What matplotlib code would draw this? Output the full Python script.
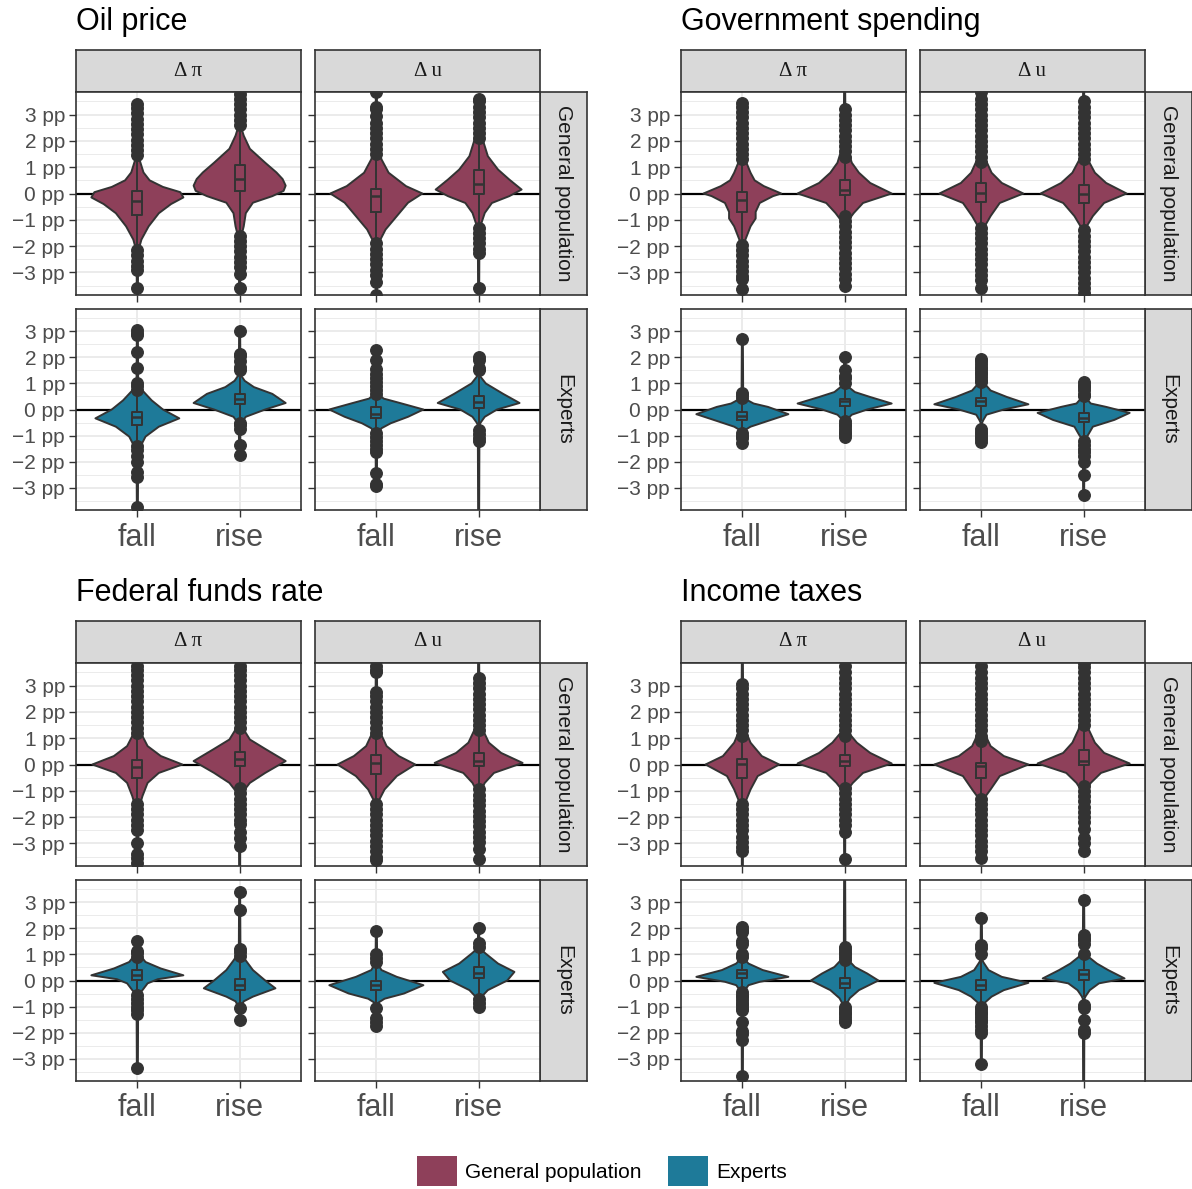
import matplotlib.pyplot as plt
from matplotlib.patches import Patch

W, H = 1192, 1189
plt.rcParams['font.family'] = ['Liberation Sans', 'DejaVu Sans']

shocks = ["Oil price", "Government spending", "Federal funds rate", "Income taxes"]
variables = ["\u0394 \u03c0", "\u0394 u"]
groups = ["General population", "Experts"]
directions = ["fall", "rise"]
yticks = [-3, -2, -1, 0, 1, 2, 3]
ytick_labels = ["\u22123 pp", "\u22122 pp", "\u22121 pp", "0 pp", "1 pp", "2 pp", "3 pp"]
group_colors = ["#8E405A", "#1E7A99"]

# order inside each shock list:
# GP dpi fall, GP dpi rise, GP du fall, GP du rise, Ex dpi fall, Ex dpi rise, Ex du fall, Ex du rise
# box = (q1, median, q3, whisker low, whisker high)
oil_box = [(-0.8, -0.3, 0.1, -2.1, 1.35), (0.11, 0.56, 1.07, -1.5, 2.5),
           (-0.7, -0.1, 0.19, -1.8, 1.4), (0.0, 0.38, 0.89, -1.2, 2.0),
           (-0.6, -0.3, -0.09, -1.3, 0.6), (0.2, 0.42, 0.6, -0.4, 1.2),
           (-0.34, -0.18, 0.1, -0.8, 0.5), (0.04, 0.29, 0.5, -0.6, 1.2)]
gov_box = [(-0.7, -0.23, 0.06, -1.9, 1.2), (-0.04, 0.13, 0.5, -0.8, 1.3),
           (-0.32, 0.03, 0.4, -1.2, 1.1), (-0.38, 0.0, 0.32, -1.3, 1.2),
           (-0.4, -0.25, -0.09, -0.8, 0.35), (0.13, 0.32, 0.42, -0.35, 0.85),
           (0.13, 0.33, 0.46, -0.4, 0.9), (-0.47, -0.32, -0.15, -1.0, 0.4)]
fed_box = [(-0.5, -0.08, 0.17, -1.5, 1.1), (-0.06, 0.2, 0.47, -0.8, 1.3),
           (-0.38, 0.04, 0.38, -1.4, 1.1), (-0.06, 0.13, 0.44, -0.9, 1.2),
           (0.01, 0.2, 0.4, -0.45, 0.8), (-0.37, -0.18, 0.07, -0.9, 0.8),
           (-0.37, -0.18, 0.0, -0.9, 0.55), (0.08, 0.29, 0.52, -0.55, 1.1)]
inc_box = [(-0.5, 0.02, 0.2, -1.4, 1.0), (-0.06, 0.13, 0.38, -0.8, 1.0),
           (-0.5, -0.06, 0.06, -1.2, 0.8), (0.0, 0.13, 0.57, -0.7, 1.4),
           (0.08, 0.27, 0.4, -0.35, 0.75), (-0.3, -0.11, 0.08, -0.9, 0.6),
           (-0.37, -0.18, 0.01, -0.9, 0.8), (0.01, 0.24, 0.42, -0.6, 0.95)]

oil_out = [[1.45, 1.65, 1.85, 2.05, 2.25, 2.45, 2.65, 2.85, 3.05, 3.25, 3.4, -2.15, -2.35, -2.55, -2.75, -2.9, -3.6],
           [2.6, 2.8, 3.0, 3.2, 3.4, 3.6, 3.8, -1.6, -1.8, -2.0, -2.2, -2.4, -2.6, -2.8, -3.05, -3.6],
           [1.5, 1.7, 1.9, 2.1, 2.3, 2.5, 2.7, 2.95, 3.2, 3.3, 3.85, -1.9, -2.1, -2.3, -2.5, -2.7, -2.9, -3.1, -3.35, -3.85],
           [2.1, 2.3, 2.5, 2.7, 2.9, 3.1, 3.3, 3.5, 3.6, -1.3, -1.5, -1.7, -1.9, -2.1, -2.25, -3.6],
           [0.75, 0.9, 1.0, 1.6, 2.2, 2.85, 2.95, 3.05, -1.4, -1.55, -1.8, -2.0, -2.4, -2.6, -3.75],
           [1.5, 1.65, 1.85, 2.05, 2.15, 3.0, -0.5, -0.6, -0.75, -1.35, -1.75],
           [0.6, 0.75, 0.9, 1.05, 1.2, 1.35, 1.55, 1.9, 2.3, -0.9, -1.05, -1.2, -1.35, -1.5, -1.65, -2.45, -2.85, -2.95],
           [1.5, 1.6, 1.9, 2.0, -0.8, -0.95, -1.1, -1.2]]
gov_out = [[1.3, 1.5, 1.7, 1.9, 2.1, 2.3, 2.5, 2.7, 2.9, 3.1, 3.3, 3.45, -1.95, -2.15, -2.35, -2.55, -2.75, -2.95, -3.15, -3.25, -3.65],
           [1.4, 1.6, 1.8, 2.0, 2.2, 2.4, 2.6, 2.8, 3.0, 3.2, -0.85, -1.05, -1.25, -1.45, -1.65, -1.85, -2.05, -2.25,
            -2.45, -2.65, -2.85, -3.05, -3.25, -3.5],
           [1.2, 1.4, 1.6, 1.8, 2.0, 2.2, 2.4, 2.6, 2.8, 3.0, 3.2, 3.4, 3.6, 3.85, -1.3, -1.5, -1.7, -1.9, -2.1, -2.3,
            -2.5, -2.7, -2.9, -3.1, -3.3, -3.6],
           [1.3, 1.5, 1.7, 1.9, 2.1, 2.3, 2.5, 2.7, 2.9, 3.1, 3.3, 3.5, -1.4, -1.6, -1.8, -2.0, -2.2, -2.4, -2.6, -2.8,
            -3.0, -3.2, -3.4, -3.6, -3.8],
           [0.45, 0.55, 0.65, 2.7, -0.9, -1.0, -1.1, -1.3],
           [1.0, 1.2, 1.3, 1.5, 2.0, -0.45, -0.55, -0.65, -0.75, -0.85, -0.95, -1.05],
           [1.05, 1.15, 1.25, 1.35, 1.45, 1.55, 1.65, 1.75, 1.85, 1.95, -0.75, -0.85, -0.95, -1.05, -1.15, -1.25],
           [0.5, 0.6, 0.75, 0.85, 0.95, 1.05, -1.2, -1.35, -1.5, -1.65, -1.8, -2.0, -2.5, -3.3]]
fed_out = [[1.2, 1.4, 1.6, 1.8, 2.0, 2.2, 2.4, 2.6, 2.8, 3.0, 3.2, 3.4, 3.6, 3.75, -1.5, -1.7, -1.9, -2.1, -2.3,
            -2.5, -3.0, -3.4, -3.55, -3.75],
           [1.4, 1.6, 1.8, 2.0, 2.2, 2.4, 2.6, 2.8, 3.0, 3.2, 3.4, 3.6, 3.75, -0.9, -1.1, -1.3, -1.5, -1.7, -1.9,
            -2.1, -2.25, -2.55, -2.8, -3.1],
           [1.2, 1.4, 1.6, 1.8, 2.0, 2.2, 2.4, 2.6, 2.75, 3.5, 3.6, 3.75, -1.5, -1.7, -1.9, -2.1, -2.3, -2.5, -2.7,
            -2.9, -3.1, -3.3, -3.5, -3.65],
           [1.3, 1.5, 1.7, 1.9, 2.1, 2.3, 2.5, 2.7, 2.9, 3.1, 3.3, -0.95, -1.15, -1.35, -1.55, -1.75, -1.95, -2.15,
            -2.35, -2.55, -2.75, -2.95, -3.2, -3.6],
           [0.9, 1.05, 1.15, 1.5, -0.55, -0.7, -0.85, -1.0, -1.15, -1.3, -3.35],
           [0.95, 1.1, 1.2, 2.7, 3.4, -1.05, -1.5],
           [0.7, 0.85, 1.0, 1.9, -1.05, -1.45, -1.6, -1.75],
           [1.3, 1.45, 2.0, -0.7, -0.85, -1.0]]
inc_out = [[1.1, 1.3, 1.5, 1.7, 1.9, 2.1, 2.3, 2.5, 2.7, 2.9, 3.05, -1.5, -1.7, -1.9, -2.1, -2.3, -2.5, -2.75,
            -2.95, -3.15, -3.3],
           [1.1, 1.3, 1.5, 1.7, 1.9, 2.1, 2.3, 2.5, 2.7, 2.9, 3.1, 3.3, 3.5, 3.75, -0.9, -1.1, -1.3, -1.5, -1.7,
            -1.9, -2.1, -2.3, -2.55, -3.6],
           [0.9, 1.1, 1.3, 1.5, 1.7, 1.9, 2.1, 2.3, 2.5, 2.7, 2.9, 3.1, 3.3, 3.5, 3.75, -1.3, -1.5, -1.7, -1.9, -2.1,
            -2.3, -2.5, -2.7, -2.9, -3.1, -3.3, -3.55],
           [1.5, 1.7, 1.9, 2.1, 2.3, 2.5, 2.7, 2.9, 3.1, 3.3, 3.5, 3.7, 3.85, -0.8, -1.0, -1.2, -1.4, -1.6, -1.8,
            -2.0, -2.2, -2.45, -2.8, -3.0, -3.3],
           [0.9, 1.0, 1.4, 1.5, 1.85, 1.95, 2.05, -0.45, -0.55, -0.65, -0.75, -0.85, -0.95, -1.05, -1.15, -1.6,
            -1.95, -2.05, -2.3, -3.65],
           [0.8, 0.9, 1.0, 1.1, 1.2, 1.3, -1.0, -1.1, -1.2, -1.3, -1.4, -1.5, -1.6],
           [1.0, 1.25, 1.35, 2.4, -1.0, -1.1, -1.2, -1.3, -1.4, -1.5, -1.6, -1.75, -1.9, -2.0, -3.2],
           [1.0, 1.4, 1.55, 1.65, 1.75, 3.1, -0.95, -1.05, -1.5, -1.9, -2.0]]

# violin outlines: (y, half width), bottom to top
oil_violin = [
    [(-3.9, 0.005), (-2.2, 0.008), (-1.75, 0.04), (-1.25, 0.11), (-0.75, 0.21), (-0.4, 0.33), (-0.15, 0.45),
     (0.05, 0.42), (0.25, 0.25), (0.5, 0.12), (0.8, 0.06), (1.3, 0.02), (1.6, 0.008), (3.45, 0.005)],
    [(-4.0, 0.005), (-1.75, 0.008), (-1.25, 0.04), (-0.75, 0.06), (-0.35, 0.13), (-0.1, 0.32), (0.1, 0.43),
     (0.3, 0.45), (0.55, 0.42), (0.8, 0.36), (1.17, 0.25), (1.7, 0.1), (2.2, 0.04), (2.6, 0.008), (4.0, 0.005)],
    [(-4.0, 0.005), (-2.0, 0.008), (-1.75, 0.04), (-1.37, 0.09), (-0.86, 0.2), (-0.35, 0.31), (0.0, 0.45),
     (0.28, 0.29), (0.79, 0.12), (1.3, 0.05), (1.8, 0.015), (2.1, 0.008), (4.0, 0.005)],
    [(-4.0, 0.005), (-1.35, 0.008), (-0.74, 0.06), (-0.36, 0.13), (-0.1, 0.3), (0.15, 0.42), (0.53, 0.3),
     (0.91, 0.19), (1.42, 0.09), (2.05, 0.04), (2.5, 0.01), (3.65, 0.005)],
    [(-3.8, 0.005), (-1.55, 0.008), (-1.42, 0.03), (-1.04, 0.08), (-0.66, 0.21), (-0.34, 0.41), (0.0, 0.25),
     (0.35, 0.14), (0.73, 0.05), (1.0, 0.02), (1.1, 0.008), (3.05, 0.005)],
    [(-1.75, 0.005), (-0.6, 0.008), (-0.5, 0.02), (-0.28, 0.06), (0.0, 0.25), (0.25, 0.45), (0.6, 0.32),
     (0.86, 0.14), (1.1, 0.05), (1.3, 0.015), (1.4, 0.008), (3.0, 0.005)],
    [(-2.95, 0.005), (-1.0, 0.008), (-0.9, 0.02), (-0.72, 0.05), (-0.53, 0.14), (-0.28, 0.31), (0.0, 0.46),
     (0.25, 0.23), (0.42, 0.07), (0.6, 0.02), (0.7, 0.008), (2.3, 0.005)],
    [(-4.0, 0.005), (-0.6, 0.008), (-0.5, 0.02), (-0.28, 0.06), (0.0, 0.18), (0.25, 0.4), (0.6, 0.24),
     (1.0, 0.07), (1.25, 0.02), (1.35, 0.008), (2.0, 0.005)]]
gov_violin = [
    [(-3.9, 0.005), (-2.2, 0.008), (-1.75, 0.03), (-1.25, 0.08), (-0.95, 0.13), (-0.7, 0.13), (-0.36, 0.17),
     (-0.1, 0.3), (0.0, 0.38), (0.28, 0.21), (0.5, 0.12), (0.79, 0.08), (1.17, 0.04), (1.5, 0.012), (1.7, 0.008),
     (3.45, 0.005)],
    [(-3.55, 0.005), (-1.2, 0.008), (-1.05, 0.03), (-0.74, 0.09), (-0.36, 0.18), (0.0, 0.46), (0.4, 0.25),
     (0.79, 0.14), (1.17, 0.07), (1.68, 0.03), (2.2, 0.01), (4.0, 0.005)],
    [(-3.9, 0.005), (-1.75, 0.008), (-1.2, 0.04), (-0.86, 0.09), (-0.36, 0.18), (0.0, 0.41), (0.4, 0.2),
     (0.79, 0.1), (1.3, 0.04), (1.8, 0.01), (4.0, 0.005)],
    [(-4.0, 0.005), (-1.75, 0.008), (-1.25, 0.03), (-0.86, 0.09), (-0.36, 0.2), (0.0, 0.42), (0.4, 0.22),
     (0.79, 0.11), (1.3, 0.04), (1.8, 0.01), (4.0, 0.005)],
    [(-1.35, 0.005), (-0.9, 0.008), (-0.8, 0.02), (-0.66, 0.08), (-0.4, 0.28), (-0.18, 0.45), (0.1, 0.25),
     (0.23, 0.11), (0.4, 0.03), (0.5, 0.008), (2.7, 0.005)],
    [(-1.05, 0.005), (-0.5, 0.008), (-0.4, 0.02), (-0.2, 0.07), (0.0, 0.22), (0.23, 0.46), (0.48, 0.25),
     (0.67, 0.1), (0.86, 0.04), (0.95, 0.008), (2.0, 0.005)],
    [(-1.3, 0.005), (-0.5, 0.008), (-0.4, 0.02), (-0.2, 0.05), (0.0, 0.22), (0.2, 0.46), (0.48, 0.25),
     (0.73, 0.09), (1.0, 0.03), (1.1, 0.008), (1.95, 0.005)],
    [(-3.3, 0.005), (-1.15, 0.008), (-1.0, 0.04), (-0.66, 0.09), (-0.4, 0.3), (-0.13, 0.45), (0.1, 0.22),
     (0.23, 0.07), (0.45, 0.02), (0.55, 0.008), (1.05, 0.005)]]
fed_violin = [
    [(-3.9, 0.005), (-1.75, 0.008), (-1.6, 0.02), (-1.2, 0.05), (-0.7, 0.1), (-0.32, 0.21), (0.0, 0.44),
     (0.32, 0.23), (0.7, 0.1), (1.08, 0.05), (1.5, 0.01), (4.0, 0.005)],
    [(-4.0, 0.005), (-1.45, 0.008), (-1.0, 0.04), (-0.7, 0.1), (-0.32, 0.25), (0.13, 0.45), (0.57, 0.26),
     (0.95, 0.1), (1.33, 0.04), (1.8, 0.01), (4.0, 0.005)],
    [(-4.0, 0.005), (-1.8, 0.008), (-1.33, 0.03), (-0.95, 0.08), (-0.44, 0.2), (0.0, 0.38), (0.32, 0.22),
     (0.7, 0.1), (1.2, 0.04), (1.6, 0.01), (4.0, 0.005)],
    [(-3.65, 0.005), (-1.15, 0.008), (-1.0, 0.02), (-0.7, 0.06), (-0.32, 0.15), (0.06, 0.43), (0.44, 0.22),
     (0.83, 0.1), (1.33, 0.04), (1.8, 0.01), (4.0, 0.005)],
    [(-3.35, 0.005), (-0.6, 0.008), (-0.5, 0.02), (-0.37, 0.05), (-0.11, 0.1), (0.05, 0.2), (0.2, 0.45),
     (0.46, 0.23), (0.71, 0.08), (1.0, 0.02), (1.1, 0.008), (1.5, 0.005)],
    [(-1.5, 0.005), (-1.05, 0.008), (-0.95, 0.02), (-0.8, 0.04), (-0.62, 0.13), (-0.3, 0.35), (0.0, 0.25),
     (0.4, 0.13), (0.77, 0.06), (1.0, 0.02), (1.1, 0.008), (3.4, 0.005)],
    [(-1.75, 0.005), (-0.95, 0.008), (-0.85, 0.02), (-0.7, 0.08), (-0.5, 0.27), (-0.18, 0.46), (0.14, 0.2),
     (0.4, 0.05), (0.6, 0.02), (0.7, 0.008), (1.9, 0.005)],
    [(-1.0, 0.005), (-0.7, 0.008), (-0.62, 0.03), (-0.37, 0.09), (0.0, 0.28), (0.33, 0.35), (0.65, 0.19),
     (1.03, 0.07), (1.2, 0.02), (1.3, 0.008), (2.0, 0.005)]]
inc_violin = [
    [(-3.9, 0.005), (-1.75, 0.008), (-1.33, 0.04), (-0.95, 0.08), (-0.44, 0.15), (0.0, 0.36), (0.32, 0.19),
     (0.83, 0.08), (1.2, 0.04), (1.6, 0.01), (4.0, 0.005)],
    [(-3.65, 0.005), (-1.15, 0.008), (-1.0, 0.02), (-0.7, 0.08), (-0.32, 0.18), (0.04, 0.46), (0.44, 0.25),
     (0.83, 0.12), (1.2, 0.04), (1.6, 0.01), (4.0, 0.005)],
    [(-3.6, 0.005), (-1.75, 0.008), (-1.27, 0.03), (-0.95, 0.09), (-0.44, 0.18), (0.0, 0.46), (0.32, 0.22),
     (0.7, 0.09), (1.2, 0.03), (1.5, 0.008), (4.0, 0.005)],
    [(-3.3, 0.005), (-1.15, 0.008), (-1.0, 0.02), (-0.7, 0.07), (-0.32, 0.17), (0.04, 0.45), (0.44, 0.2),
     (0.83, 0.11), (1.33, 0.05), (1.84, 0.015), (2.1, 0.008), (4.0, 0.005)],
    [(-4.0, 0.005), (-0.5, 0.008), (-0.4, 0.02), (-0.18, 0.06), (-0.05, 0.17), (0.14, 0.45), (0.4, 0.2),
     (0.65, 0.06), (0.85, 0.015), (0.95, 0.008), (2.05, 0.005)],
    [(-1.65, 0.005), (-1.0, 0.008), (-0.9, 0.02), (-0.68, 0.05), (-0.37, 0.14), (0.0, 0.33), (0.27, 0.22),
     (0.52, 0.1), (0.77, 0.04), (1.0, 0.012), (1.15, 0.008), (4.0, 0.005)],
    [(-3.2, 0.005), (-1.0, 0.008), (-0.9, 0.02), (-0.62, 0.1), (-0.37, 0.22), (-0.09, 0.46), (0.14, 0.2),
     (0.4, 0.07), (0.7, 0.02), (0.8, 0.008), (2.4, 0.005)],
    [(-4.0, 0.005), (-0.7, 0.008), (-0.6, 0.02), (-0.37, 0.06), (-0.11, 0.15), (0.08, 0.4), (0.4, 0.24),
     (0.65, 0.13), (0.9, 0.05), (1.1, 0.012), (1.2, 0.008), (3.1, 0.005)]]

all_box = [oil_box, gov_box, fed_box, inc_box]
all_out = [oil_out, gov_out, fed_out, inc_out]
all_violin = [oil_violin, gov_violin, fed_violin, inc_violin]

DARK = "#333333"
GRID = "#EBEBEB"
STRIP = "#D9D9D9"

fig = plt.figure(figsize=(W / 100, H / 100), dpi=100)


def px_axes(x0, y0, x1, y1):
    return fig.add_axes([x0 / W, 1 - y1 / H, (x1 - x0) / W, (y1 - y0) / H])


def strip(x0, y0, x1, y1, text, rot=0, **kw):
    s = px_axes(x0, y0, x1, y1)
    s.set_facecolor(STRIP)
    s.set_xticks([])
    s.set_yticks([])
    for sp in s.spines.values():
        sp.set_color(DARK)
        sp.set_linewidth(1.2)
    s.text(0.5, 0.5, text, rotation=rot, ha="center", va="center", color="#1A1A1A",
           transform=s.transAxes, **kw)


def violin(ax, x, prof, box, fliers, color):
    ys = [p[0] for p in prof]
    hw = [p[1] for p in prof]
    xs = [x + w for w in hw] + [x - w for w in hw[::-1]]
    ax.fill(xs, ys + ys[::-1], facecolor=color, edgecolor=DARK, linewidth=1.4, zorder=3,
            joinstyle="round")
    q1, med, q3, lo, hi = box
    ax.bxp([dict(q1=q1, med=med, q3=q3, whislo=lo, whishi=hi, fliers=fliers)], positions=[x],
           widths=0.1, showcaps=False, manage_ticks=False, zorder=4,
           boxprops=dict(color=DARK, linewidth=1.4),
           whiskerprops=dict(color=DARK, linewidth=1.4),
           medianprops=dict(color=DARK, linewidth=1.8),
           flierprops=dict(marker="o", markerfacecolor=DARK, markeredgecolor=DARK, markersize=8.3))


block_x = [0, 605]
block_y = [0, 571]
panel_x = [(76, 301), (315, 540)]
panel_y = [(92, 295), (309, 510)]

for b, shock in enumerate(shocks):
    bx = block_x[b % 2]
    by = block_y[b // 2]
    fig.text((bx + 76) / W, 1 - (by + 22) / H, shock, fontsize=22, ha="left", va="center")
    for v, var in enumerate(variables):
        strip(bx + panel_x[v][0], by + 50, bx + panel_x[v][1], by + panel_y[0][0], var,
              fontsize=15, family=["Liberation Serif", "DejaVu Serif"])
    for g, grp in enumerate(groups):
        strip(bx + 540, by + panel_y[g][0], bx + 587, by + panel_y[g][1], grp, rot=-90, fontsize=15)
        for v in range(2):
            ax = px_axes(bx + panel_x[v][0], by + panel_y[g][0], bx + panel_x[v][1], by + panel_y[g][1])
            ax.set_xlim(0.4, 2.6)
            ax.set_ylim(-3.86, 3.86)
            ax.set_axisbelow(True)
            ax.set_yticks(yticks)
            ax.set_yticks([-3.5, -2.5, -1.5, -0.5, 0.5, 1.5, 2.5, 3.5], minor=True)
            ax.set_xticks([1, 2])
            ax.grid(which="major", color=GRID, linewidth=1.4)
            ax.grid(which="minor", axis="y", color=GRID, linewidth=0.7)
            ax.tick_params(which="minor", length=0)
            ax.tick_params(which="major", length=5, width=1.0, color=DARK, labelcolor="#4D4D4D", pad=3)
            ax.tick_params(axis="y", labelsize=15)
            ax.tick_params(axis="x", labelsize=22, pad=4)
            if v == 0:
                ax.set_yticklabels(ytick_labels)
            else:
                ax.set_yticklabels([])
            if g == 1:
                ax.set_xticklabels(directions)
            else:
                ax.set_xticklabels([])
            for sp in ax.spines.values():
                sp.set_color(DARK)
                sp.set_linewidth(1.2)
                sp.set_zorder(6)
            ax.axhline(0, color="black", linewidth=1.6, zorder=2)
            for d in range(2):
                k = g * 4 + v * 2 + d
                violin(ax, d + 1, all_violin[b][k], all_box[b][k], all_out[b][k], group_colors[g])

handles = [Patch(facecolor=group_colors[0], label=groups[0]),
           Patch(facecolor=group_colors[1], label=groups[1])]
fig.legend(handles=handles, loc="center", bbox_to_anchor=(602 / W, 1 - 1171 / H), ncol=2,
           frameon=False, fontsize=15, handlelength=1.9, handleheight=1.9, handletextpad=0.4,
           columnspacing=1.3)

fig.savefig("out.png", dpi=100)
